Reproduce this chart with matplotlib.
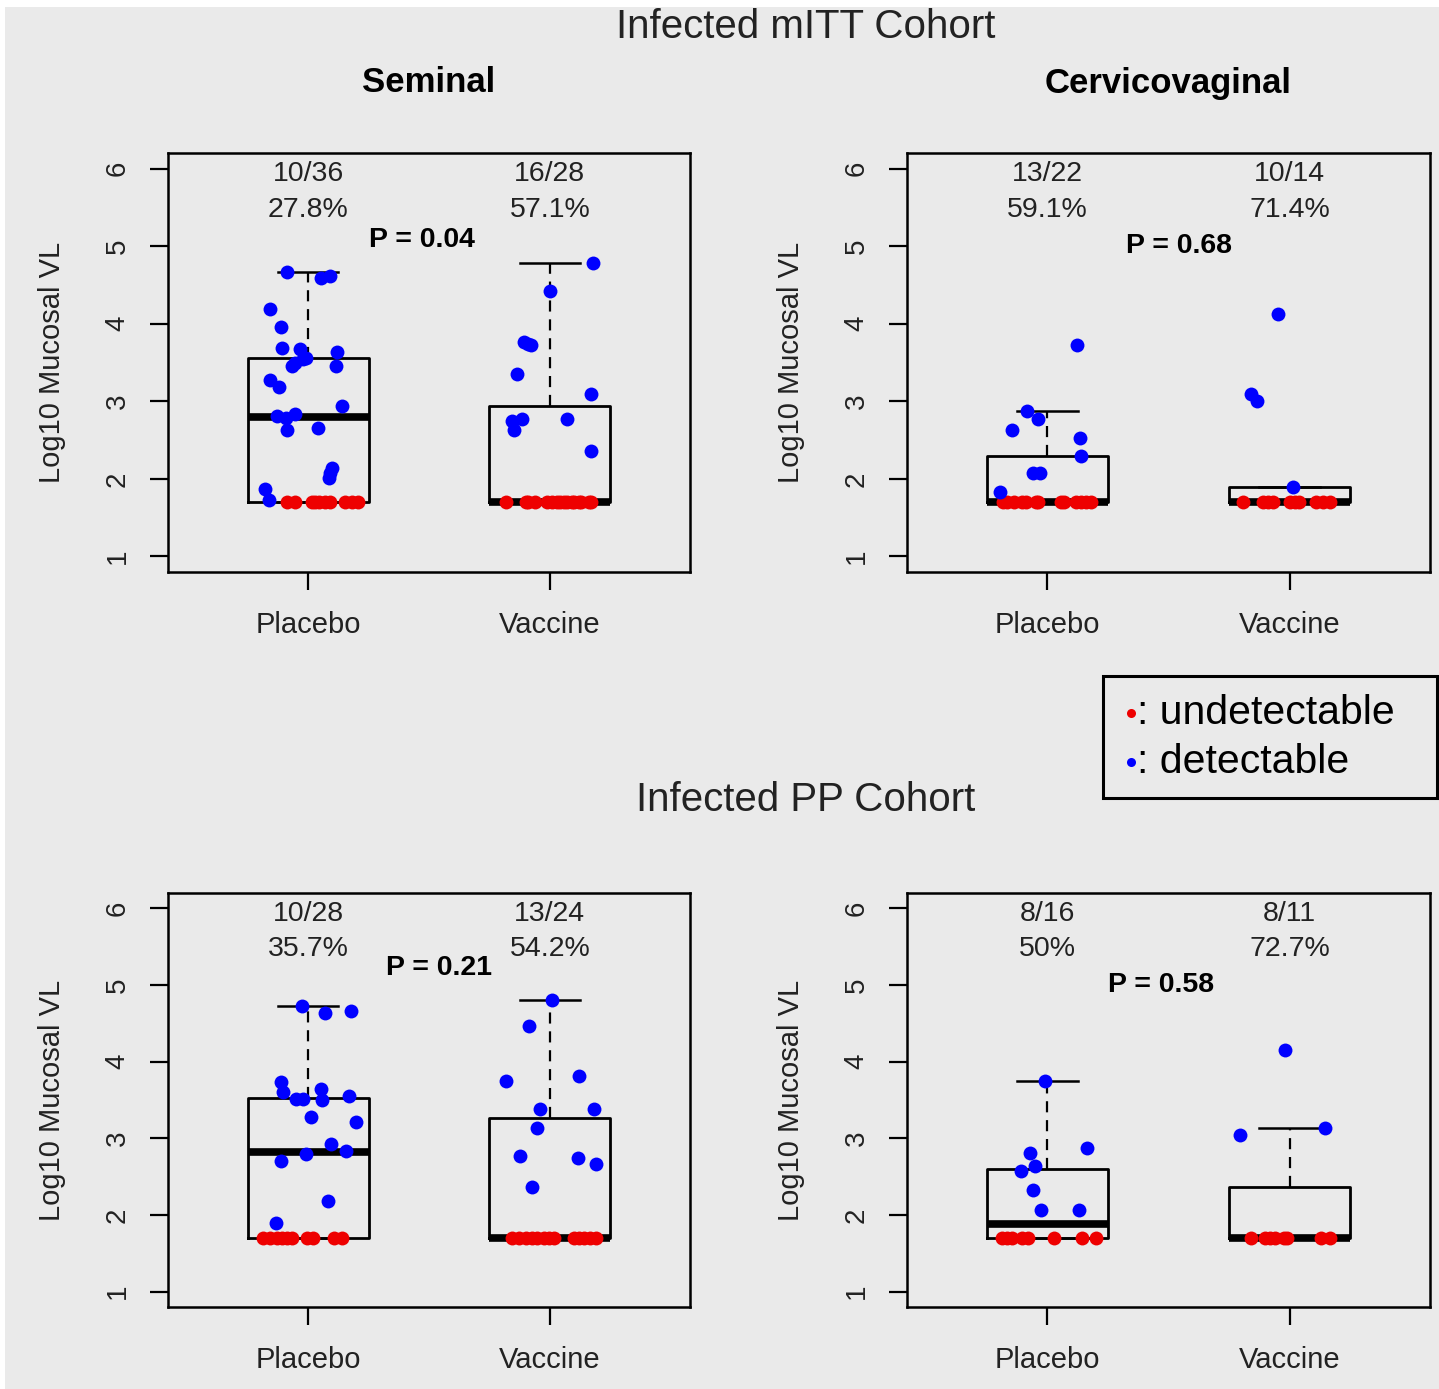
import numpy as np
import matplotlib
matplotlib.use("Agg")
import matplotlib.pyplot as plt
from matplotlib.patches import Rectangle
from matplotlib.lines import Line2D

plt.rcParams['font.family'] = ['Liberation Sans', 'DejaVu Sans']

# ---------------- data ----------------
LOD = 1.7  # log10 of the assay detection limit
groups = ["Placebo", "Vaccine"]

# Seminal, infected mITT cohort
sem_itt_pla_vals = [4.67, 4.59, 4.62, 4.19, 3.96, 3.69, 3.67, 3.56, 3.50, 3.45, 3.63, 3.46,
                    3.27, 3.19, 2.94, 2.81, 2.79, 2.83, 2.63, 2.66, 2.14, 2.08, 2.01, 1.87,
                    1.73, 3.55]
sem_itt_pla_jit = [-0.088, 0.053, 0.091, -0.156, -0.114, -0.107, -0.034, -0.008, -0.053, -0.065,
                   0.118, 0.115, -0.160, -0.121, 0.142, -0.128, -0.093, -0.054, -0.088, 0.042,
                   0.098, 0.092, 0.087, -0.180, -0.164, -0.020]
sem_itt_pla_und = [-0.088, -0.054, 0.015, 0.043, 0.070, 0.091, 0.153, 0.180, 0.208, 0.030]

sem_itt_vac_vals = [4.78, 4.42, 3.76, 3.72, 3.35, 3.10, 2.74, 2.77, 2.63, 2.77, 2.36, 3.74]
sem_itt_vac_jit = [0.180, 0.000, -0.108, -0.076, -0.136, 0.170, -0.157, -0.115, -0.150, 0.070,
                   0.170, -0.090]
sem_itt_vac_und = [-0.18, -0.10, -0.06, -0.01, 0.01, 0.03, 0.04, 0.06, 0.07, 0.09, 0.10, 0.12,
                   0.13, 0.16, 0.17, -0.09]

# Cervicovaginal, infected mITT cohort
cv_itt_pla_vals = [3.72, 2.87, 2.77, 2.63, 2.53, 2.30, 2.07, 2.07, 1.83]
cv_itt_pla_jit = [0.122, -0.086, -0.039, -0.147, 0.136, 0.139, -0.060, -0.030, -0.197]
cv_itt_pla_und = [-0.185, -0.165, -0.137, -0.103, -0.089, -0.048, 0.055, 0.069, 0.117, 0.137,
                  0.158, 0.179, -0.041]

cv_itt_vac_vals = [4.13, 3.09, 3.00, 1.90]
cv_itt_vac_jit = [-0.046, -0.160, -0.133, 0.014]
cv_itt_vac_und = [-0.192, -0.110, -0.089, -0.069, 0.000, 0.021, 0.041, 0.110, 0.137, 0.165]

# Seminal, infected PP cohort
sem_pp_pla_vals = [4.73, 4.63, 4.66, 3.73, 3.61, 3.51, 3.51, 3.65, 3.50, 3.55, 3.28, 3.21,
                   2.93, 2.84, 2.80, 2.71, 2.18, 1.89]
sem_pp_pla_jit = [-0.024, 0.070, 0.178, -0.112, -0.105, -0.049, -0.021, 0.053, 0.056, 0.171,
                  0.011, 0.200, 0.096, 0.155, -0.007, -0.112, 0.084, -0.133]
sem_pp_pla_und = [-0.185, -0.157, -0.130, -0.109, -0.088, -0.067, -0.006, 0.022, 0.105, 0.139]

sem_pp_vac_vals = [4.80, 4.46, 3.75, 3.81, 3.38, 3.38, 3.14, 2.77, 2.74, 2.67, 2.37]
sem_pp_vac_jit = [0.007, -0.087, -0.180, 0.120, -0.042, 0.183, -0.052, -0.122, 0.115, 0.191,
                  -0.073]
sem_pp_vac_und = [-0.156, -0.128, -0.100, -0.073, -0.052, -0.025, -0.004, 0.017, 0.099, 0.120,
                  0.140, 0.168, 0.189]

# Cervicovaginal, infected PP cohort
cv_pp_pla_vals = [3.75, 2.81, 2.87, 2.64, 2.57, 2.33, 2.07, 2.07]
cv_pp_pla_jit = [-0.011, -0.072, 0.162, -0.053, -0.110, -0.060, -0.025, 0.132]
cv_pp_pla_und = [-0.187, -0.166, -0.145, -0.103, -0.082, 0.029, 0.141, 0.200]

cv_pp_vac_vals = [4.15, 3.04, 3.14]
cv_pp_vac_jit = [-0.018, -0.204, 0.145]
cv_pp_vac_und = [-0.161, -0.102, -0.081, -0.060, -0.025, -0.011, 0.128, 0.166]

p_values = ["0.04", "0.68", "0.21", "0.58"]

# ---------------- helpers ----------------
W, H = 1439, 1389
BG = "#EAEAEA"


def fivenum(x):
    """Tukey five-number summary (as used by R's boxplot)."""
    x = np.sort(np.asarray(x, dtype=float))
    n = len(x)
    n4 = np.floor((n + 3) / 2) / 2
    d = np.array([1, n4, (n + 1) / 2, n + 1 - n4, n])
    return 0.5 * (x[np.floor(d - 1).astype(int)] + x[np.ceil(d - 1).astype(int)])


def box_stats(x):
    lo, q1, med, q3, hi = fivenum(x)
    iqr = q3 - q1
    x = np.asarray(x)
    whishi = x[x <= q3 + 1.5 * iqr].max()
    whislo = x[x >= q1 - 1.5 * iqr].min()
    return dict(med=med, q1=q1, q3=q3, whislo=whislo, whishi=whishi, fliers=[])


def pct(n, t):
    v = round(100.0 * n / t, 1)
    s = f"{v:.1f}"
    if s.endswith(".0"):
        s = s[:-2]
    return s + "%"


def rect(x0, y0, x1, y1):
    return [x0 / W, 1 - y1 / H, (x1 - x0) / W, (y1 - y0) / H]


fig = plt.figure(figsize=(W / 100, H / 100), dpi=100, facecolor="white")
fig.patches.append(Rectangle((5 / W, 0), 1 - 5 / W, 1 - 7 / H, transform=fig.transFigure,
                             facecolor=BG, edgecolor="none", zorder=-10))


def panel(rect_px, data, pval, ppos):
    ax = fig.add_axes(rect(*rect_px))
    ax.set_facecolor(BG)
    full = [list(vals) + [LOD] * len(und) for (vals, jit), und in data]
    stats = [box_stats(f) for f in full]
    ax.bxp(stats, positions=[1, 2], widths=0.5, showfliers=False,
           boxprops=dict(color="black", lw=2.0),
           medianprops=dict(color="black", lw=5.5, solid_capstyle="butt"),
           whiskerprops=dict(color="black", lw=1.6, linestyle=(0, (5, 3.5))),
           capprops=dict(color="black", lw=1.8))
    for i, ((vals, jit), und) in enumerate(data):
        pos = i + 1
        # undetectable samples sit at the detection limit
        ax.plot(pos + np.asarray(und), np.full(len(und), LOD), "o",
                color="#EE0000", ms=10, mec="none", zorder=5)
        ax.plot(pos + np.asarray(jit), vals, "o", color="#0000FF", ms=10, mec="none", zorder=6)
        n_und, n_tot = len(und), len(full[i])
        ax.text(pos, 5.93, f"{n_und}/{n_tot}", ha="center", va="center", fontsize=20.5,
                color="#222222")
        ax.text(pos, 5.47, pct(n_und, n_tot), ha="center", va="center", fontsize=20.5,
                color="#222222")
    ax.text(ppos[0], ppos[1], f"P = {pval}", ha="center", va="center", fontsize=20.5,
            fontweight="bold", color="black")
    ax.set_xlim(0.42, 2.58)
    ax.set_ylim(0.8, 6.2)
    ax.set_xticks([1, 2])
    ax.set_xticklabels(groups, fontsize=21, color="#222222")
    ax.set_yticks([1, 2, 3, 4, 5, 6])
    ax.set_yticklabels(["1", "2", "3", "4", "5", "6"], fontsize=20, rotation=90,
                       va="center", color="#222222")
    ax.tick_params(axis="x", length=13, width=1.6, pad=15)
    ax.tick_params(axis="y", length=13, width=1.6, pad=14)
    for s in ax.spines.values():
        s.set_linewidth(1.8)
        s.set_color("black")
    ax.set_ylabel("Log10 Mucosal VL", fontsize=21, color="#222222", labelpad=28)
    return ax


panel((168, 153, 690, 572),
      [((sem_itt_pla_vals, sem_itt_pla_jit), sem_itt_pla_und),
       ((sem_itt_vac_vals, sem_itt_vac_jit), sem_itt_vac_und)],
      p_values[0], (1.47, 5.08))
panel((907, 153, 1430, 572),
      [((cv_itt_pla_vals, cv_itt_pla_jit), cv_itt_pla_und),
       ((cv_itt_vac_vals, cv_itt_vac_jit), cv_itt_vac_und)],
      p_values[1], (1.545, 5.0))
panel((168, 893, 690, 1307),
      [((sem_pp_pla_vals, sem_pp_pla_jit), sem_pp_pla_und),
       ((sem_pp_vac_vals, sem_pp_vac_jit), sem_pp_vac_und)],
      p_values[2], (1.54, 5.22))
panel((907, 893, 1430, 1307),
      [((cv_pp_pla_vals, cv_pp_pla_jit), cv_pp_pla_und),
       ((cv_pp_vac_vals, cv_pp_vac_jit), cv_pp_vac_und)],
      p_values[3], (1.47, 5.0))

# titles
fig.text(806 / W, 1 - 27 / H, "Infected mITT Cohort", ha="center", va="center", fontsize=29,
         color="#222222")
fig.text(806 / W, 1 - 800 / H, "Infected PP Cohort", ha="center", va="center", fontsize=29,
         color="#222222")
fig.text(429 / W, 1 - 83 / H, "Seminal", ha="center", va="center", fontsize=25,
         fontweight="bold", color="black")
fig.text(1168 / W, 1 - 83 / H, "Cervicovaginal", ha="center", va="center", fontsize=25,
         fontweight="bold", color="black")

# key for point colours
fig.patches.append(Rectangle((1103 / W, 1 - 798 / H), (1437 - 1103) / W, (798 - 676) / H,
                             transform=fig.transFigure, facecolor="none", edgecolor="black",
                             lw=2.2, zorder=5))
for yy, col, lab in [(713, "#EE0000", ": undetectable"), (762, "#0000FF", ": detectable")]:
    fig.lines.append(Line2D([1131 / W], [1 - yy / H], transform=fig.transFigure, marker="o",
                            color=col, ms=6.5, mec="none", linestyle="none"))
    fig.text(1137 / W, 1 - yy / H, lab, ha="left", va="center", fontsize=29.5, color="black")

fig.savefig("out.png", dpi=100, facecolor="white")
